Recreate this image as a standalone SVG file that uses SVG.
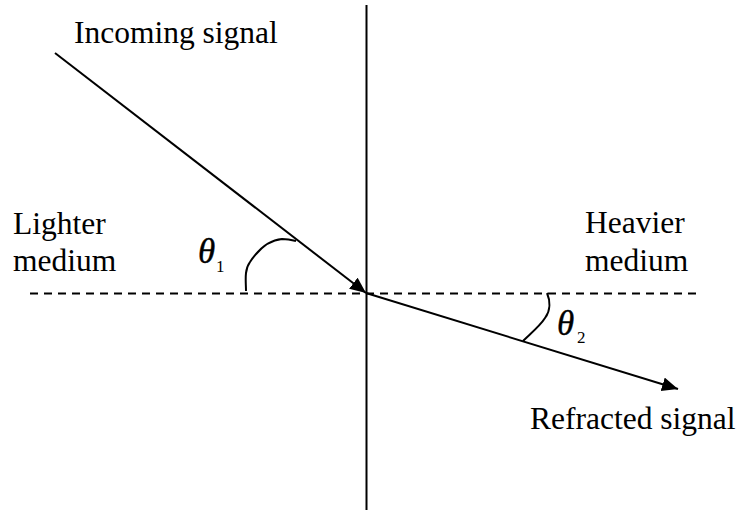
<svg xmlns="http://www.w3.org/2000/svg" width="742" height="510" viewBox="0 0 742 510">
<style>
.t{font-family:"Liberation Serif","Times New Roman",serif;font-size:31.5px;fill:#000}
.g{font-family:"Liberation Serif","Times New Roman",serif;font-size:35px;font-style:italic;fill:#000;stroke:#000;stroke-width:0.4}
.s{font-family:"Liberation Serif","Times New Roman",serif;font-size:17px;fill:#000}
.ln{stroke:#000;stroke-width:2;fill:none}
.dash{stroke:#000;stroke-width:2;stroke-dasharray:8 6;fill:none}
</style>
<defs>
<marker id="ah" markerUnits="userSpaceOnUse" markerWidth="18" markerHeight="16" refX="16" refY="7" orient="auto">
<path d="M0,0 L16,7 L0,14 z" fill="#000"/>
</marker>
</defs>
<rect width="742" height="510" fill="#fff"/>
<g id="boundary">
<line class="ln" x1="366.5" y1="5" x2="366.5" y2="510"/>
<line class="dash" x1="30" y1="293.5" x2="697" y2="293.5"/>
</g>
<g id="connectors">
<line class="ln" x1="55" y1="53" x2="366" y2="293" marker-end="url(#ah)"/>
<line class="ln" x1="366" y1="293" x2="678" y2="389" marker-end="url(#ah)"/>
</g>
<g id="angle1">
<path class="ln" d="M246,291 C246,282 244,270 250,262 C258,250 268,240 282,239 C288,239 292,240 296,241"/>
<text class="g" x="198" y="263">θ</text>
<text class="s" x="216" y="272">1</text>
</g>
<g id="angle2">
<path class="ln" d="M547,293 C550,300 551,310 545,318 C540,326 530,334 523,341"/>
<text class="g" x="557" y="335">θ</text>
<text class="s" x="577" y="343">2</text>
</g>
<g id="incoming-label"><text class="t" x="74" y="43">Incoming signal</text></g>
<g id="lighter-label"><text class="t" x="13" y="234">Lighter</text><text class="t" x="13" y="271">medium</text></g>
<g id="heavier-label"><text class="t" x="585" y="233">Heavier</text><text class="t" x="585" y="271">medium</text></g>
<g id="refracted-label"><text class="t" x="530" y="429">Refracted signal</text></g>
</svg>
